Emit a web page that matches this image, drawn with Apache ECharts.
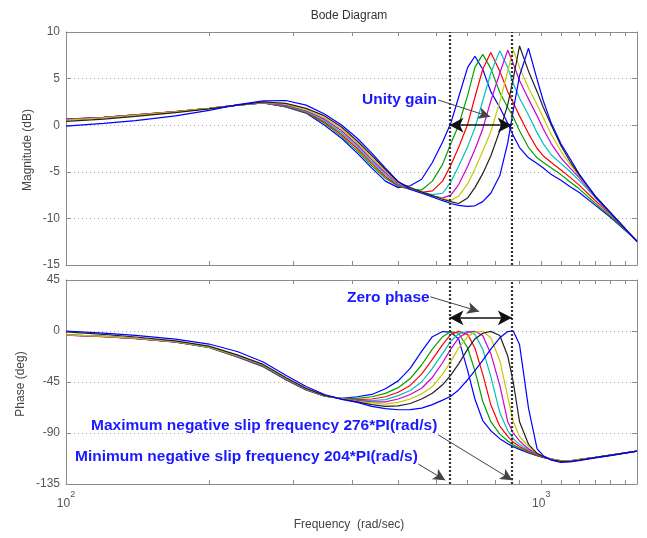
<!DOCTYPE html>
<html><head><meta charset="utf-8">
<script src="https://cdn.jsdelivr.net/npm/echarts@6/dist/echarts.min.js"></script>
<style>html,body{margin:0;padding:0;background:#fff}#c{width:647px;height:538px}</style>
</head><body><div id="c"></div>
<script>
// Frequency grid (rad/s)
const freq = [100,120,140,170,200,230,260,290,320,350,380,410,440,470,500,530,560,590,620,645,670,700,725,753,783,818,850,873,900,940,980,1010,1050,1100,1150,1200,1300,1400,1590];

// Magnitude (dB), 8 slip frequencies
const magBlue1   = [0.65,0.85,1.1,1.45,1.8,2.15,2.4,1.95,1.3,0.0,-1.4,-3.0,-4.6,-6.0,-6.7,-6.5,-5.8,-4.0,-1.8,0.2,3.0,6.2,7.4,6.0,3.6,1.9,0.2,-1.1,-2.4,-3.5,-4.1,-4.6,-5.3,-5.9,-6.6,-7.2,-8.6,-9.9,-12.4];
const magGreen   = [0.63,0.84,1.1,1.45,1.8,2.15,2.4,2.0,1.35,0.2,-1.2,-2.75,-4.35,-5.7,-6.55,-6.9,-6.95,-6.0,-4.2,-2.0,0.0,3.2,6.2,7.6,6.1,3.5,1.9,0.9,-0.6,-2.4,-3.5,-4.0,-4.6,-5.3,-6.1,-6.8,-8.4,-9.8,-12.4];
const magRed     = [0.62,0.83,1.1,1.45,1.8,2.15,2.4,2.05,1.4,0.35,-1.0,-2.5,-4.1,-5.5,-6.5,-6.85,-7.2,-7.05,-6.0,-4.3,-2.4,0.1,3.0,6.0,7.8,5.8,3.6,2.4,1.0,-0.9,-2.5,-3.3,-4.0,-4.8,-5.6,-6.4,-8.1,-9.6,-12.4];
const magCyan    = [0.6,0.82,1.08,1.43,1.8,2.15,2.4,2.1,1.45,0.5,-0.8,-2.3,-3.9,-5.3,-6.4,-6.8,-7.2,-7.45,-7.3,-6.1,-4.4,-2.3,-0.3,2.6,5.6,8.0,6.2,4.5,2.9,1.1,-0.8,-2.0,-3.2,-4.1,-5.0,-5.9,-7.8,-9.5,-12.4];
const magMagenta = [0.6,0.82,1.08,1.43,1.8,2.15,2.42,2.15,1.55,0.65,-0.6,-2.1,-3.7,-5.1,-6.3,-6.8,-7.2,-7.6,-7.8,-7.5,-6.4,-4.4,-2.6,-0.4,2.6,5.6,8.05,6.6,4.8,2.8,1.0,-0.4,-2.0,-3.5,-4.6,-5.6,-7.7,-9.5,-12.45];
const magYellow  = [0.55,0.8,1.05,1.42,1.8,2.15,2.45,2.25,1.65,0.8,-0.4,-1.9,-3.5,-4.9,-6.2,-6.75,-7.2,-7.6,-7.85,-8.1,-7.6,-6.3,-4.7,-2.8,-0.7,2.5,5.8,8.1,6.2,4.0,2.2,0.8,-1.0,-2.8,-4.2,-5.4,-7.6,-9.4,-12.45];
const magBlack   = [0.4,0.65,0.95,1.35,1.75,2.15,2.5,2.35,1.8,1.0,-0.2,-1.7,-3.25,-4.75,-6.1,-6.7,-7.15,-7.55,-7.95,-8.2,-8.4,-7.8,-6.7,-5.2,-3.3,-0.6,2.2,5.0,8.5,5.8,3.6,1.9,0.0,-2.2,-3.9,-5.3,-7.6,-9.4,-12.5];
const magBlue2   = [-0.1,0.2,0.5,1.0,1.6,2.2,2.6,2.65,2.15,1.2,0.03,-1.4,-3.0,-4.6,-6.05,-6.9,-7.3,-7.7,-8.1,-8.4,-8.6,-8.7,-8.65,-8.2,-7.3,-5.4,-1.9,1.6,5.3,8.25,4.9,2.6,0.2,-2.0,-3.6,-5.2,-7.7,-9.4,-12.5];

// Phase (deg)
const phaseBlue1   = [-3.5,-4.8,-6.6,-9.8,-14.5,-23,-31.5,-43,-52,-57.5,-59.4,-58,-56,-51,-44,-33,-18,-5,-0.5,-1,-7,-35,-60,-79,-88,-95,-99.5,-102,-104.5,-107.5,-110,-111.5,-113,-114.5,-114.5,-113.5,-111.5,-109.5,-106];
const phaseGreen   = [-3.5,-4.8,-6.6,-9.7,-14.4,-22.8,-31.2,-42.7,-51.8,-57.4,-59.5,-59.5,-58,-55,-50,-42,-30,-16,-5,-0.5,-2,-15,-35,-62,-80,-91,-97,-100.5,-103.5,-107,-110,-111.5,-113,-114.5,-114.5,-113.5,-111.5,-109.5,-106];
const phaseRed     = [-3.6,-4.9,-6.7,-9.7,-14.3,-22.6,-30.9,-42.4,-51.6,-57.3,-59.6,-60.5,-60,-58,-54,-48,-38,-25,-12,-3,-0.3,-3,-15,-38,-65,-84,-93,-98,-102,-106,-109.5,-111.5,-113,-114.5,-114.5,-113.5,-111.5,-109.5,-106];
const phaseCyan    = [-3.4,-4.7,-6.5,-9.6,-14.2,-22.4,-30.6,-42.1,-51.4,-57.2,-59.7,-61,-61.5,-60.5,-57,-52.5,-45,-33,-20,-9,-2.5,-0.2,-3,-16,-40,-72,-88,-95,-100,-105,-109,-111,-113,-114.5,-114.5,-113.5,-111.5,-109.5,-106];
const phaseMagenta = [-3.6,-4.9,-6.6,-9.6,-14.1,-22.2,-30.3,-41.8,-51.2,-57.1,-59.8,-61.5,-62.5,-62.5,-60,-56,-50.5,-41,-28,-16,-6,-1,-0.2,-4,-20,-48,-80,-90,-97,-104,-108.5,-110.5,-113,-114.5,-114.5,-113.5,-111.5,-109.5,-106];
const phaseYellow  = [-3.4,-4.7,-6.4,-9.4,-14.0,-22,-30,-41.5,-51,-57,-59.9,-62,-63.5,-64.5,-63,-60,-55.5,-49,-38,-27,-15,-5,-1,-0.2,-6,-26,-58,-80,-93,-102,-108,-110.5,-113,-114.5,-114.5,-113.5,-111.5,-109.5,-106];
const phaseBlack   = [-0.8,-3.0,-5.3,-8.7,-13.4,-21.3,-29.5,-41,-50.6,-56.8,-60,-62.5,-65,-66.5,-66,-64,-60,-55,-47.5,-39,-29,-16,-7,-2,-0.3,-4,-22,-45,-80,-100,-108,-111,-113.5,-115,-115,-114,-111.5,-109.5,-106];
const phaseBlue2   = [0,-1.8,-3.9,-7.2,-11.5,-18.3,-27.4,-39,-49,-56,-60.3,-63,-66.5,-68.5,-69.5,-69.3,-68,-65,-61,-57.5,-52,-43,-35,-26,-16,-6,-0.5,0,-12,-68,-104,-110,-114,-116,-115.5,-114.5,-112,-110,-106];

// Axis ticks / labels
const xTickValues = [100,200,300,400,500,600,700,800,900,1000,1100,1200,1300,1400,1500];
const xLabelValues = [100,1000];
const slipMin = 204 * Math.PI;
const slipMax = 276 * Math.PI;

const magSets = [magBlue1, magGreen, magRed, magCyan, magMagenta, magYellow, magBlack, magBlue2];
const phaseSets = [phaseBlue1, phaseGreen, phaseRed, phaseCyan, phaseMagenta, phaseYellow, phaseBlack, phaseBlue2];
const colors = ['#0000ff','#00a000','#ff0000','#00c0c0','#d000d0','#c8c800','#222222','#0000ff'];

const axisGray = '#8c8c8c';
const labelGray = '#555555';
const FONT = '"Liberation Sans", Arial, Helvetica, sans-serif';

function xAx(grid, pos, withLabels) {
  return {
    type: 'log', logBase: 10, gridIndex: grid, position: pos, min: 100, max: 1590,
    axisLine: {show: true, onZero: false, lineStyle: {color: axisGray, width: 1}},
    axisTick: {show: true, inside: true, length: 4, customValues: xTickValues, lineStyle: {color: axisGray}},
    axisLabel: withLabels ? {
      show: true, customValues: xLabelValues, margin: 6,
      formatter: v => '{b|10}{s|' + Math.round(Math.log10(v)) + '}',
      rich: {
        b: {fontSize: 12, color: labelGray, fontFamily: FONT, verticalAlign: 'bottom', lineHeight: 20},
        s: {fontSize: 9, color: labelGray, fontFamily: FONT, verticalAlign: 'top', lineHeight: 20}
      }
    } : {show: false},
    splitLine: {show: false}
  };
}
function yAx(grid, pos, min, max, step, withLabels) {
  return {
    type: 'value', gridIndex: grid, position: pos, min: min, max: max, interval: step,
    axisLine: {show: true, onZero: false, lineStyle: {color: axisGray, width: 1}},
    axisTick: {show: true, inside: true, length: 5, lineStyle: {color: axisGray}},
    axisLabel: withLabels ? {show: true, color: labelGray, fontSize: 12, fontFamily: FONT, margin: 6} : {show: false},
    splitLine: withLabels ? {show: true, lineStyle: {color: '#a8a8a8', width: 1, type: [1, 3]}} : {show: false}
  };
}

const series = [];
magSets.forEach((arr, i) => series.push({
  type: 'line', xAxisIndex: 0, yAxisIndex: 0, data: freq.map((f, j) => [f, arr[j]]),
  symbol: 'none', color: colors[i], lineStyle: {color: colors[i], width: 1.2}, silent: true
}));
phaseSets.forEach((arr, i) => series.push({
  type: 'line', xAxisIndex: 2, yAxisIndex: 2, data: freq.map((f, j) => [f, arr[j]]),
  symbol: 'none', color: colors[i], lineStyle: {color: colors[i], width: 1.2}, silent: true
}));

const vLine = {color: '#333', width: 2.2, type: [2, 2]};
const thinArrow = {color: '#444', width: 1, type: 'solid'};
const thickArrow = {color: '#111', width: 1.6, type: 'solid'};
function arrow(a, b, style, both, size) {
  return [
    {coord: a, symbol: both ? 'arrow' : 'none', symbolSize: size, lineStyle: style},
    {coord: b, symbol: 'arrow', symbolSize: size, lineStyle: style}
  ];
}

series.push({
  type: 'line', xAxisIndex: 0, yAxisIndex: 0, data: [], z: 5, silent: true,
  markLine: {
    silent: true, animation: false, label: {show: false}, symbol: 'none',
    data: [
      [{coord: [slipMin, -15], symbol: 'none', lineStyle: vLine}, {coord: [slipMin, 10], symbol: 'none', lineStyle: vLine}],
      [{coord: [slipMax, -15], symbol: 'none', lineStyle: vLine}, {coord: [slipMax, 10], symbol: 'none', lineStyle: vLine}],
      arrow([607, 2.7], [781, 0.9], thinArrow, false, [9, 12]),
      arrow([slipMin, 0], [slipMax, 0], thickArrow, true, [11, 14])
    ]
  }
});
series.push({
  type: 'line', xAxisIndex: 2, yAxisIndex: 2, data: [], z: 5, silent: true,
  markLine: {
    silent: true, animation: false, label: {show: false}, symbol: 'none',
    data: [
      [{coord: [slipMin, -135], symbol: 'none', lineStyle: vLine}, {coord: [slipMin, 45], symbol: 'none', lineStyle: vLine}],
      [{coord: [slipMax, -135], symbol: 'none', lineStyle: vLine}, {coord: [slipMax, 45], symbol: 'none', lineStyle: vLine}],
      arrow([584, 30.2], [740, 17.3], thinArrow, false, [9, 12]),
      arrow([slipMin, 11.6], [slipMax, 11.6], thickArrow, true, [11, 14]),
      arrow([607, -91.6], [869, -131.6], thinArrow, false, [9, 12]),
      arrow([551, -117.4], [628, -131.6], thinArrow, false, [9, 12])
    ]
  }
});

function txt(x, y, text, font, fill, align, rot) {
  return {type: 'text', x: x, y: y, rotation: rot || 0, z: 100, silent: true,
    style: {text: text, font: font, fill: fill, align: align || 'left', verticalAlign: 'middle'}};
}
const annFont = 'bold 15.5px ' + FONT;
const annColor = '#1a1aff';

const option = {
  animation: false,
  backgroundColor: '#ffffff',
  grid: [
    {left: 66, top: 32, width: 571, height: 233},
    {left: 66, top: 280, width: 571, height: 204}
  ],
  xAxis: [xAx(0, 'bottom', false), xAx(0, 'top', false), xAx(1, 'bottom', true), xAx(1, 'top', false)],
  yAxis: [yAx(0, 'left', -15, 10, 5, true), yAx(0, 'right', -15, 10, 5, false),
          yAx(1, 'left', -135, 45, 45, true), yAx(1, 'right', -135, 45, 45, false)],
  series: series,
  graphic: [
    txt(349, 16, 'Bode Diagram', '12px ' + FONT, '#333', 'center'),
    txt(28, 150, 'Magnitude (dB)', '12px ' + FONT, '#444', 'center', Math.PI / 2),
    txt(21, 384, 'Phase (deg)', '12px ' + FONT, '#444', 'center', Math.PI / 2),
    txt(349, 525, 'Frequency  (rad/sec)', '12px ' + FONT, '#444', 'center'),
    txt(362, 100, 'Unity gain', annFont, annColor, 'left'),
    txt(347, 298, 'Zero phase', annFont, annColor, 'left'),
    txt(91, 426, 'Maximum negative slip frequency 276*PI(rad/s)', annFont, annColor, 'left'),
    txt(75, 457, 'Minimum negative slip frequency 204*PI(rad/s)', annFont, annColor, 'left')
  ]
};
const chart = echarts.init(document.getElementById('c'), null, {renderer: 'canvas'});
chart.setOption(option);
</script>
</body></html>
